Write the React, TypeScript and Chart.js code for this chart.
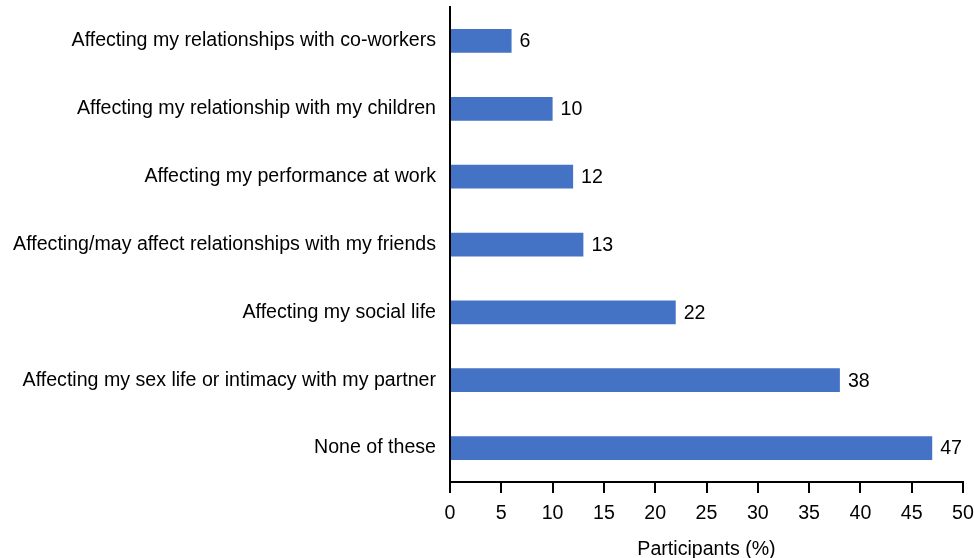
import React, { useEffect, useRef } from "react";
import { Chart, registerables } from "chart.js";

Chart.register(...registerables);

const categories = [
  "Affecting my relationships with co-workers",
  "Affecting my relationship with my children",
  "Affecting my performance at work",
  "Affecting/may affect relationships with my friends",
  "Affecting my social life",
  "Affecting my sex life or intimacy with my partner",
  "None of these",
];
const values = [6, 10, 12, 13, 22, 38, 47];
const xTicks = [0, 5, 10, 15, 20, 25, 30, 35, 40, 45, 50];
const xTitle = "Participants (%)";

const FONT = "'Liberation Sans', Arial, sans-serif";
const FS = 19.6;

const valueLabels = {
  id: "valueLabels",
  afterDatasetsDraw(chart: any) {
    const ctx = chart.ctx;
    const meta = chart.getDatasetMeta(0);
    ctx.save();
    ctx.font = `${FS}px ${FONT}`;
    ctx.fillStyle = "#000";
    ctx.textAlign = "left";
    ctx.textBaseline = "middle";
    meta.data.forEach((bar: any, i: number) => {
      ctx.fillText(String(values[i]), bar.x + 8, bar.y + 1);
    });
    ctx.restore();
  },
};

export default function App() {
  const ref = useRef<HTMLCanvasElement | null>(null);
  useEffect(() => {
    if (!ref.current) return;
    Chart.defaults.font.family = FONT;
    Chart.defaults.color = "#000";
    const chart = new Chart(ref.current, {
      type: "bar",
      data: {
        labels: categories,
        datasets: [
          {
            data: values,
            backgroundColor: "#4472C4",
            barPercentage: 0.35,
            categoryPercentage: 1,
          },
        ],
      },
      options: {
        indexAxis: "y",
        animation: false,
        responsive: false,
        layout: { padding: { top: 7, right: 0, left: 0, bottom: 0 } },
        plugins: { legend: { display: false }, tooltip: { enabled: false } },
        scales: {
          x: {
            min: 0,
            max: 50,
            afterBuildTicks: (axis: any) => {
              axis.ticks = xTicks.map((v) => ({ value: v }));
            },
            afterFit: (axis: any) => {
              axis.height = 76;
              axis.paddingRight = 11;
              axis.paddingLeft = 0;
            },
            grid: {
              drawOnChartArea: false,
              drawTicks: true,
              tickLength: 11,
              color: "#000",
              lineWidth: 2,
            },
            border: { display: true, color: "#000", width: 2 },
            ticks: { font: { size: FS }, padding: 9, color: "#000" },
            title: {
              display: true,
              text: xTitle,
              font: { size: FS },
              color: "#000",
              padding: { top: 3, bottom: -3 },
            },
          },
          y: {
            afterFit: (axis: any) => {
              axis.width = 450;
              axis.paddingTop = 0;
              axis.paddingBottom = 0;
            },
            grid: { display: false, drawTicks: false },
            border: { display: true, color: "#000", width: 2 },
            ticks: { font: { size: FS }, padding: 14, color: "#000" },
          },
        },
      },
      plugins: [valueLabels],
    });
    return () => chart.destroy();
  }, []);
  return (
    <div style={{ position: "fixed", left: 0, top: 0, width: 974, height: 558, background: "#fff" }}>
      <canvas ref={ref} width={974} height={558} style={{ width: 974, height: 558 }} />
    </div>
  );
}
